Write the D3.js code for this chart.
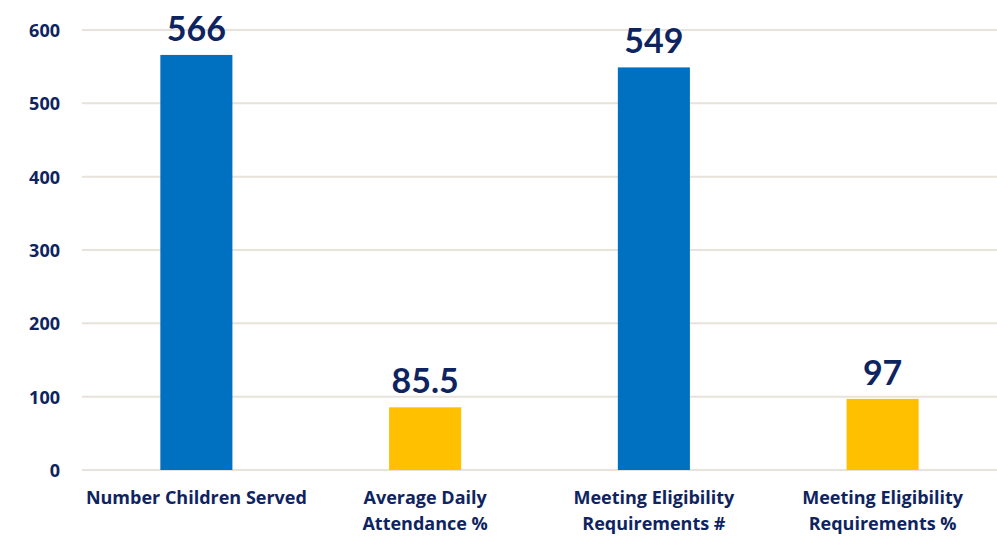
<!DOCTYPE html>
<meta charset="utf-8">
<script src="https://cdn.jsdelivr.net/npm/d3@7"></script>
<style>
    body { margin: 0; background: #fff; }
    text { font-family: Lato, "Open Sans", sans-serif; font-weight: bold; fill: #0E2461; }
    .cat text, text.cat { font-family: "Open Sans", Lato, sans-serif; }
</style>
<div id="base"></div>
<script>
    // chart data
    var categories = ["Number Children Served", "Average Daily Attendance %",
        "Meeting Eligibility Requirements #", "Meeting Eligibility Requirements %"];
    var labelLines = [["Number Children Served"], ["Average Daily", "Attendance %"],
        ["Meeting Eligibility", "Requirements #"], ["Meeting Eligibility", "Requirements %"]];
    var values = [566, 85.5, 549, 97];
    var valueLabels = ["566", "85.5", "549", "97"];
    var barColors = ["#0070C0", "#FFC000", "#0070C0", "#FFC000"];
    var yTicks = [0, 100, 200, 300, 400, 500, 600];

    var width = 997, height = 537;

    var svg = d3.select("#base")
        .append("svg")
        .attr("width", width)
        .attr("height", height);

    var x = d3.scaleBand()
        .domain(categories)
        .range([82, 997])
        .paddingInner(0.685)
        .paddingOuter(0.3425);

    var y = d3.scaleLinear()
        .domain([0, 600])
        .range([470, 30]);

    // gridlines
    svg.append("g")
        .selectAll("line")
        .data(yTicks)
        .enter()
        .append("line")
        .attr("x1", 82)
        .attr("x2", 997)
        .attr("y1", function (d) { return y(d); })
        .attr("y2", function (d) { return y(d); })
        .attr("stroke", "#E8E3DA")
        .attr("stroke-width", 2);

    // y-axis labels
    var yAxis = svg.append("g")
        .attr("transform", "translate(60,0)")
        .call(d3.axisLeft(y).tickValues(yTicks).tickSize(0).tickPadding(0));
    yAxis.select(".domain").remove();
    yAxis.selectAll("text")
        .attr("class", "cat")
        .style("font-size", "18px")
        .attr("dy", "0.36em");

    // bars
    svg.append("g")
        .selectAll("rect")
        .data(values)
        .enter()
        .append("rect")
        .attr("x", function (d, i) { return x(categories[i]); })
        .attr("y", function (d) { return y(d); })
        .attr("width", x.bandwidth())
        .attr("height", function (d) { return y(0) - y(d); })
        .attr("fill", function (d, i) { return barColors[i]; });

    // value labels
    svg.append("g")
        .selectAll("text")
        .data(values)
        .enter()
        .append("text")
        .attr("text-anchor", "middle")
        .attr("x", function (d, i) { return x(categories[i]) + x.bandwidth() / 2; })
        .attr("y", function (d) { return y(d) - 14; })
        .style("font-size", "34px")
        .text(function (d, i) { return valueLabels[i]; });

    // category labels
    var cat = svg.append("g")
        .attr("class", "cat")
        .selectAll("text")
        .data(labelLines)
        .enter()
        .append("text")
        .attr("text-anchor", "middle")
        .attr("x", function (d, i) { return x(categories[i]) + x.bandwidth() / 2; })
        .attr("y", 504)
        .style("font-size", "18px");
    cat.selectAll("tspan")
        .data(function (d) { return d; })
        .enter()
        .append("tspan")
        .attr("x", function () { return d3.select(this.parentNode).attr("x"); })
        .attr("dy", function (d, i) { return i === 0 ? 0 : 26; })
        .text(function (d) { return d; });
</script>
